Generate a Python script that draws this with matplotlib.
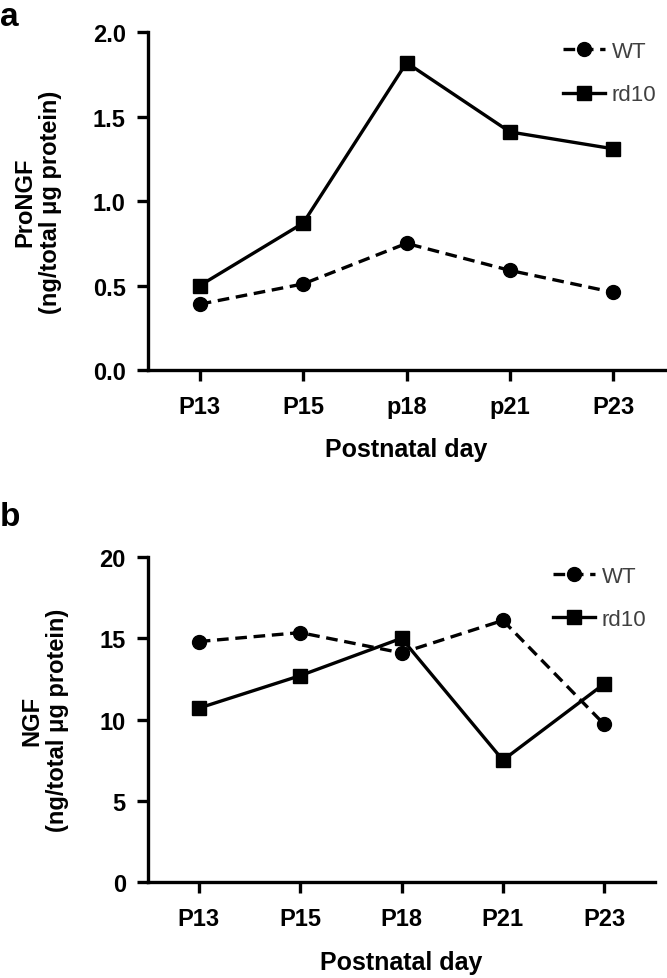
import numpy as np
import matplotlib.pyplot as plt

plt.rcParams['font.family'] = ['Liberation Sans', 'DejaVu Sans']

# Panel a: ProNGF
days_a = ['P13', 'P15', 'p18', 'p21', 'P23']
wt_a = [0.39, 0.51, 0.75, 0.59, 0.46]
rd10_a = [0.50, 0.87, 1.82, 1.41, 1.31]

# Panel b: NGF
days_b = ['P13', 'P15', 'P18', 'P21', 'P23']
wt_b = [14.8, 15.35, 14.1, 16.1, 9.7]
rd10_b = [10.7, 12.7, 15.0, 7.5, 12.2]

fig = plt.figure(figsize=(6.67, 9.79), dpi=100)
ax_a = fig.add_axes([0.222, 0.621, 0.775, 0.345])
ax_b = fig.add_axes([0.222, 0.098, 0.760, 0.332])


def style_panel(ax, labels, wt, rd10, ylim, yticks, yfmt, ylabel):
    x = np.arange(len(labels))
    ax.plot(x, wt, color='black', lw=2.4, ls=(0, (3.5, 2)), marker='o', ms=10, label='WT')
    ax.plot(x, rd10, color='black', lw=2.4, ls='-', marker='s', ms=10, label='rd10')
    ax.set_xlim(-0.5, len(labels) - 0.5)
    ax.set_ylim(*ylim)
    ax.set_xticks(x)
    ax.set_xticklabels(labels, fontsize=17, fontweight='bold')
    ax.set_yticks(yticks)
    ax.set_yticklabels([yfmt.format(v) for v in yticks], fontsize=17, fontweight='bold')
    for s in ['top', 'right']:
        ax.spines[s].set_visible(False)
    for s in ['left', 'bottom']:
        ax.spines[s].set_linewidth(2.4)
    ax.tick_params(axis='both', direction='out', length=8, width=2.4)
    ax.tick_params(axis='x', pad=10)
    ax.tick_params(axis='y', pad=8)
    ax.set_xlabel('Postnatal day', fontsize=18, fontweight='bold', labelpad=14)
    ax.set_ylabel(ylabel, fontsize=17, fontweight='bold', labelpad=22, linespacing=1.15)
    ax.legend(loc='upper right', frameon=False, fontsize=16, handlelength=1.9,
              handletextpad=0.3, borderaxespad=0.0, labelspacing=1.0,
              bbox_to_anchor=(1.0, 1.0), labelcolor='#404040')


style_panel(ax_a, days_a, wt_a, rd10_a, (0, 2.0), [0.0, 0.5, 1.0, 1.5, 2.0], '{:.1f}',
            'ProNGF\n(ng/total \u03bcg protein)')
style_panel(ax_b, days_b, wt_b, rd10_b, (0, 20), [0, 5, 10, 15, 20], '{:.0f}',
            'NGF\n(ng/total \u03bcg protein)')

fig.text(0.0, 0.998, 'a', fontsize=24, fontweight='bold', va='top', ha='left')
fig.text(0.0, 0.487, 'b', fontsize=24, fontweight='bold', va='top', ha='left')

fig.savefig('out.png', dpi=100)
